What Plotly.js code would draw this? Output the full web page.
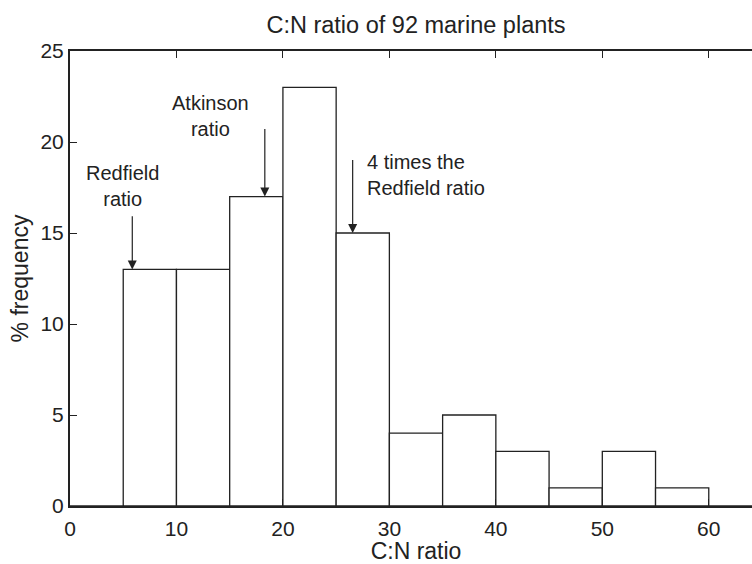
<!DOCTYPE html>
<html>
<head>
<meta charset="utf-8">
<script src="https://cdn.plot.ly/plotly-3.0.1.min.js"></script>
<style>
html, body { margin: 0; padding: 0; overflow: hidden; background: #fff; }
#chart { width: 780px; height: 564px; }
</style>
</head>
<body>
<div id="chart"></div>
<script>
// Bin centres (C:N ratio bins of width 5) and % frequency
var binCenters = [2.5, 7.5, 12.5, 17.5, 22.5, 27.5, 32.5, 37.5, 42.5, 47.5, 52.5, 57.5, 62.5];
var frequency  = [0, 13, 13, 17, 23, 15, 4, 5, 3, 1, 3, 1, 0];
var xTicks = [0, 10, 20, 30, 40, 50, 60];
var yTicks = [0, 5, 10, 15, 20, 25];

// Annotated ratios: arrow x position and the bar value it points to
var arrowLabels = ['Redfield<br>ratio', 'Atkinson<br>ratio', '4 times the<br>Redfield ratio'];
var arrowX      = [5.85, 18.3, 26.55];
var arrowTipY   = [13, 17, 15];
var arrowTailY  = [16.0, 20.8, 19.1];
var labelX      = [4.9, 13.2, 27.7];
var labelY      = [17.6, 21.45, 18.2];
var labelAnchor = ['center', 'center', 'left'];

var ink = '#222';
var fontFam = '"Liberation Sans", Arial, Helvetica, sans-serif';

var trace = {
  type: 'bar',
  x: binCenters,
  y: frequency,
  width: 5,
  marker: { color: '#ffffff', line: { color: ink, width: 1.3 } },
  hoverinfo: 'x+y'
};

var annotations = [];
for (var i = 0; i < arrowX.length; i++) {
  annotations.push({
    x: arrowX[i], y: arrowTipY[i], xref: 'x', yref: 'y',
    ax: arrowX[i], ay: arrowTailY[i], axref: 'x', ayref: 'y',
    text: '', showarrow: true, arrowhead: 2, arrowsize: 1.5,
    arrowwidth: 1.2, arrowcolor: ink, standoff: 0, startstandoff: 0
  });
  annotations.push({
    x: labelX[i], y: labelY[i], xref: 'x', yref: 'y',
    text: arrowLabels[i], showarrow: false,
    xanchor: labelAnchor[i], yanchor: 'middle', align: labelAnchor[i] === 'left' ? 'left' : 'center',
    font: { family: fontFam, size: 20, color: ink }
  });
}

var layout = {
  width: 780, height: 564,
  margin: { l: 70, r: 18, t: 51, b: 58 },
  paper_bgcolor: '#fff', plot_bgcolor: '#fff',
  font: { family: fontFam, size: 20, color: ink },
  showlegend: false,
  bargap: 0,
  title: {
    text: 'C:N ratio of 92 marine plants',
    font: { family: fontFam, size: 23.5, color: ink },
    x: 0.5, xref: 'paper', xanchor: 'center',
    y: 1 - 25 / 564, yref: 'container', yanchor: 'middle'
  },
  xaxis: {
    range: [0, 65], tickvals: xTicks, ticktext: xTicks.map(String),
    ticks: 'inside', ticklen: 7, tickwidth: 1, tickcolor: ink,
    showline: true, linecolor: ink, linewidth: 2, mirror: 'ticks',
    showgrid: false, zeroline: false, ticklabelstandoff: 3,
    tickfont: { family: fontFam, size: 21, color: ink },
    title: { text: 'C:N ratio', font: { family: fontFam, size: 23, color: ink }, standoff: 14 }
  },
  yaxis: {
    range: [0, 25], tickvals: yTicks, ticktext: yTicks.map(String),
    ticks: 'inside', ticklen: 7, tickwidth: 1, tickcolor: ink,
    showline: true, linecolor: ink, linewidth: 2, mirror: 'ticks',
    showgrid: false, zeroline: false,
    tickfont: { family: fontFam, size: 21, color: ink },
    title: { text: '% frequency', font: { family: fontFam, size: 23, color: ink }, standoff: 5 }
  },
  annotations: annotations
};

Plotly.newPlot('chart', [trace], layout, { displayModeBar: false, staticPlot: true });
</script>
</body>
</html>
